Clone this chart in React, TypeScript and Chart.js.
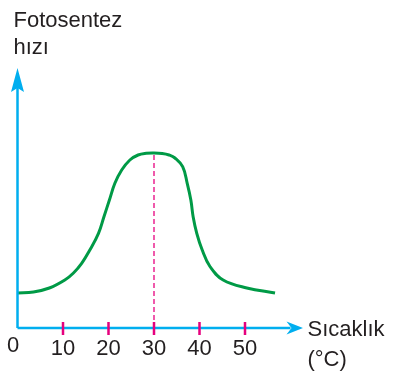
import React, { useEffect, useRef } from "react";
import { Chart, registerables } from "chart.js";

Chart.register(...registerables);

const temps = [0, 3.5, 7, 10.4, 12.3, 14.1, 15.9, 17.8, 19.0, 20.2, 21.4, 22.9, 24.7, 26.5, 28.3, 30, 31.8, 33.3, 34.6, 36.3, 37.3, 38.1, 38.6, 39.4, 40.6, 42.3, 45.2, 50.4, 56.6];
const rates = [35, 36, 40, 48, 55, 64.7, 78, 94.7, 111.3, 128, 144.7, 158, 168, 173, 174.7, 175, 174.5, 173, 170, 161.3, 144.7, 128, 111.3, 94.7, 78, 61.5, 48, 40, 35];
const tickValues = [10, 20, 30, 40, 50];
const peakTemp = 30;
const peakRate = 175;
const xMax = 60;
const yMax = 240;
const yTitle = ["Fotosentez", "hızı"];
const xTitle = ["Sıcaklık", "(°C)"];
const originLabel = "0";

const AXIS = "#00AEEF";
const MAGENTA = "#E6007E";
const GREEN = "#009A46";
const TEXT = "#231F20";
const FONT = "22px 'Liberation Sans', Arial, Helvetica, sans-serif";

const axesPlugin = {
  id: "customAxes",
  afterDatasetsDraw(chart: any) {
    const { ctx, chartArea, scales } = chart;
    const xs = scales.x;
    const ys = scales.y;
    const x0 = xs.getPixelForValue(0);
    const y0 = ys.getPixelForValue(0);
    ctx.save();
    ctx.strokeStyle = AXIS;
    ctx.fillStyle = AXIS;
    ctx.lineWidth = 2.5;
    ctx.beginPath();
    ctx.moveTo(x0, y0);
    ctx.lineTo(chartArea.right, y0);
    ctx.moveTo(x0, y0);
    ctx.lineTo(x0, chartArea.top);
    ctx.stroke();
    const xr = chartArea.right;
    ctx.beginPath();
    ctx.moveTo(xr - 4, y0 - 6.5);
    ctx.lineTo(xr + 12.5, y0);
    ctx.lineTo(xr - 4, y0 + 6.5);
    ctx.lineTo(xr + 1, y0);
    ctx.closePath();
    ctx.fill();
    const yt = chartArea.top;
    ctx.beginPath();
    ctx.moveTo(x0 - 6.5, yt + 4);
    ctx.lineTo(x0, yt - 20);
    ctx.lineTo(x0 + 6.5, yt + 4);
    ctx.lineTo(x0, yt);
    ctx.closePath();
    ctx.fill();
    ctx.strokeStyle = MAGENTA;
    ctx.lineWidth = 2.5;
    ctx.beginPath();
    tickValues.forEach((v) => {
      const px = xs.getPixelForValue(v);
      ctx.moveTo(px, y0 - 6);
      ctx.lineTo(px, y0 + 7);
    });
    ctx.stroke();
    ctx.fillStyle = TEXT;
    ctx.font = FONT;
    ctx.textBaseline = "alphabetic";
    ctx.textAlign = "center";
    tickValues.forEach((v) => {
      ctx.fillText(String(v), xs.getPixelForValue(v), y0 + 27);
    });
    ctx.fillText(originLabel, x0 - 4.5, y0 + 24);
    ctx.textAlign = "left";
    ctx.fillText(xTitle[0], xr + 17, y0 + 8);
    ctx.fillText(xTitle[1], xr + 17, y0 + 38);
    ctx.fillText(yTitle[0], x0 - 4, 27.3);
    ctx.fillText(yTitle[1], x0 - 4, 54.3);
    ctx.restore();
  },
};

export default function App() {
  const ref = useRef<HTMLCanvasElement | null>(null);
  useEffect(() => {
    if (!ref.current) return;
    const chart = new Chart(ref.current, {
      type: "line",
      data: {
        datasets: [
          {
            data: temps.map((t, i) => ({ x: t, y: rates[i] })),
            borderColor: GREEN,
            borderWidth: 3,
            pointRadius: 0,
            tension: 0.4,
            fill: false,
          },
          {
            data: [
              { x: peakTemp, y: 0 },
              { x: peakTemp, y: peakRate },
            ],
            borderColor: MAGENTA,
            borderWidth: 1.3,
            borderDash: [5, 3],
            pointRadius: 0,
            fill: false,
          },
        ],
      },
      options: {
        responsive: false,
        animation: false,
        events: [],
        layout: { padding: { left: 17.5, right: 400 - 17.5 - xMax * 4.55, top: 328 - yMax, bottom: 385 - 328 } },
        plugins: { legend: { display: false }, tooltip: { enabled: false } },
        scales: {
          x: { type: "linear", min: 0, max: xMax, display: false },
          y: { type: "linear", min: 0, max: yMax, display: false },
        },
      },
      plugins: [axesPlugin],
    });
    return () => chart.destroy();
  }, []);
  return (
    <div style={{ position: "fixed", left: 0, top: 0, width: 400, height: 385, background: "#fff" }}>
      <canvas ref={ref} width={400} height={385} />
    </div>
  );
}
